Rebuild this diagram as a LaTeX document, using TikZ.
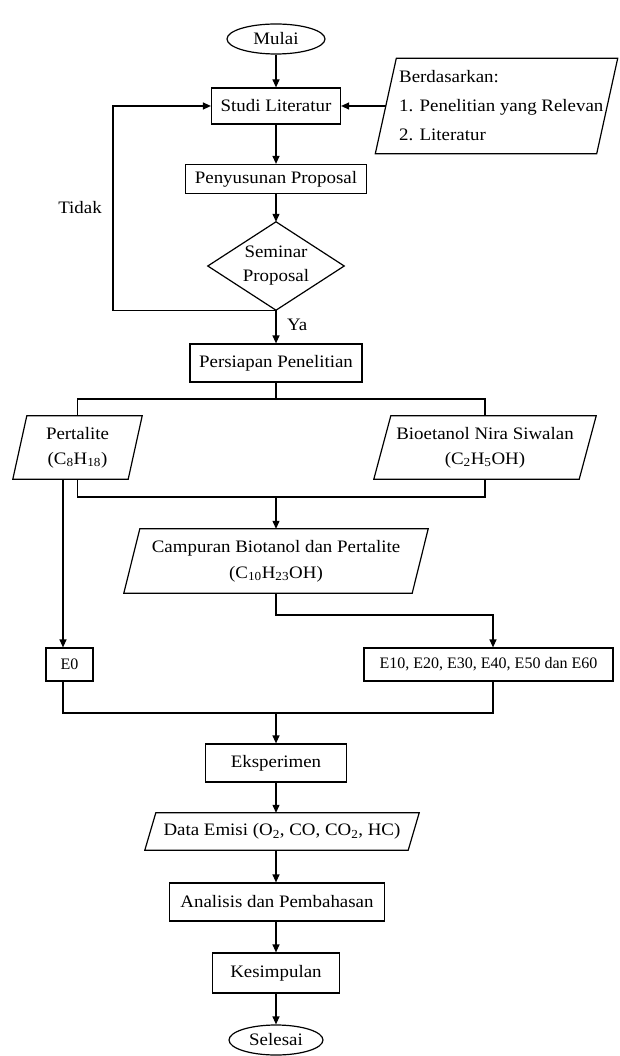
\documentclass[tikz,border=0pt]{standalone}
\usepackage{fontspec}
\setmainfont[FakeStretch=1.08]{Liberation Serif}
\newfontfamily\plainserif{Liberation Serif}
\usetikzlibrary{arrows.meta,calc,shapes.geometric}
\newcommand\sbs[1]{\textsubscript{#1}}
\newcommand\drawpara[2]{\draw[ln] ($(#1.north west)+(#2,0)$) -- (#1.north east) -- ($(#1.south east)+(-#2,0)$) -- (#1.south west) -- cycle;}
\begin{document}
\begin{tikzpicture}[x=1pt,y=-1pt,
  every node/.style={font=\fontsize{17.5}{21}\selectfont, inner sep=0pt, align=center},
  ln/.style={line width=1.2pt, line join=miter},
  arr/.style={ln, -{Triangle[length=8pt,width=7pt]}},
  proc/.style={draw, line width=1.2pt, rectangle},
  term/.style={draw, line width=1.2pt, ellipse},
  ghost/.style={draw=none, rectangle},
  etext/.style={font=\plainserif\fontsize{16}{19}\selectfont}]
\useasboundingbox (0,0) rectangle (619,1056);
% nodes
\node[term, minimum width=98, minimum height=30] (mulai) at (276,39) {Mulai};
\node[proc, minimum width=129, minimum height=36] (studi) at (276,106) {Studi Literatur};
\node[ghost, minimum width=242, minimum height=95] (ber) at (496.5,106) {};
\node[anchor=west, align=left, font=\fontsize{17.5}{29}\selectfont] (bertext) at (399,106) {Berdasarkan:\\1. Penelitian yang Relevan\\2. Literatur};
\node[proc, minimum width=181, minimum height=29] (pen) at (276,179) {Penyusunan Proposal};
\node[ghost, minimum width=136, minimum height=88, font=\fontsize{17.5}{24}\selectfont] (sem) at (276,266) {Seminar\\Proposal};
\node (tidak) at (80,208) {Tidak};
\node[anchor=west] (ya) at (287,325) {Ya};
\node[proc, minimum width=172, minimum height=38] (per) at (276,363) {Persiapan Penelitian};
\node[ghost, minimum width=129, minimum height=63, font=\fontsize{17.5}{25}\selectfont] (pert) at (77.5,447.5) {Pertalite\\(C\sbs{8}H\sbs{18})};
\node[ghost, minimum width=222, minimum height=63, font=\fontsize{17.5}{25}\selectfont] (bio) at (485,447.5) {Bioetanol Nira Siwalan\\(C\sbs{2}H\sbs{5}OH)};
\node[ghost, minimum width=304, minimum height=64, font=\fontsize{17.5}{26}\selectfont] (camp) at (276,561) {Campuran Biotanol dan Pertalite\\(C\sbs{10}H\sbs{23}OH)};
\node[proc, etext, minimum width=47, minimum height=33] (e0) at (69.5,664.5) {E0};
\node[proc, etext, minimum width=249, minimum height=33] (e10) at (488.5,664.5) {E10, E20, E30, E40, E50 dan E60};
\node[proc, minimum width=141, minimum height=38] (eks) at (276,763) {Eksperimen};
\node[ghost, minimum width=274, minimum height=37] (data) at (282,831.5) {Data Emisi (O\sbs{2}, CO, CO\sbs{2}, HC)};
\node[proc, minimum width=215, minimum height=38] (ana) at (277,902) {Analisis dan Pembahasan};
\node[proc, minimum width=127, minimum height=40] (kes) at (276,973) {Kesimpulan};
\node[term, minimum width=94, minimum height=30] (sel) at (276,1040) {Selesai};
% shapes
\drawpara{ber}{21}
\drawpara{pert}{14}
\drawpara{bio}{17}
\drawpara{camp}{16}
\drawpara{data}{11}
\draw[ln] (sem.north) -- (sem.east) -- (sem.south) -- (sem.west) -- cycle;
% helper coordinates
\coordinate (lp) at (113,0);
\coordinate (s1) at (0,399);
\coordinate (m1) at (0,497);
\coordinate (px) at (63,0);
\coordinate (ex) at (493,0);
\coordinate (c2) at (0,615);
\coordinate (m2) at (0,713);
% connectors
\draw[arr] (mulai.south) -- (studi.north);
\draw[arr] (studi.south) -- (pen.north);
\draw[arr] ($(ber.west)+(10.5,0)$) -- (studi.east);
\draw[arr] (pen.south) -- (sem.north);
\draw[arr] (sem.south) -- (sem.south -| lp) -- (studi.west -| lp) -- (studi.west);
\draw[arr] (sem.south) -- (per.north);
\draw[ln] (per.south) -- (per.south |- s1);
\draw[ln] (pert.north) -- (pert.north |- s1) -- (bio.north |- s1) -- (bio.north);
\draw[ln] (pert.south) -- (pert.south |- m1) -- (bio.south |- m1) -- (bio.south);
\draw[arr] (camp.north |- m1) -- (camp.north);
\draw[arr] (pert.south -| px) -- (e0.north -| px);
\draw[arr] (camp.south) -- (camp.south |- c2) -- (c2 -| ex) -- (e10.north -| ex);
\draw[ln] (e0.south -| px) -- (px |- m2) -- (ex |- m2) -- (e10.south -| ex);
\draw[arr] (eks.north |- m2) -- (eks.north);
\draw[arr] (eks.south) -- (eks.south |- data.north);
\draw[arr] (data.south -| eks.south) -- (ana.north -| eks.south);
\draw[arr] (ana.south -| kes.north) -- (kes.north);
\draw[arr] (kes.south) -- (sel.north);
\end{tikzpicture}
\end{document}
